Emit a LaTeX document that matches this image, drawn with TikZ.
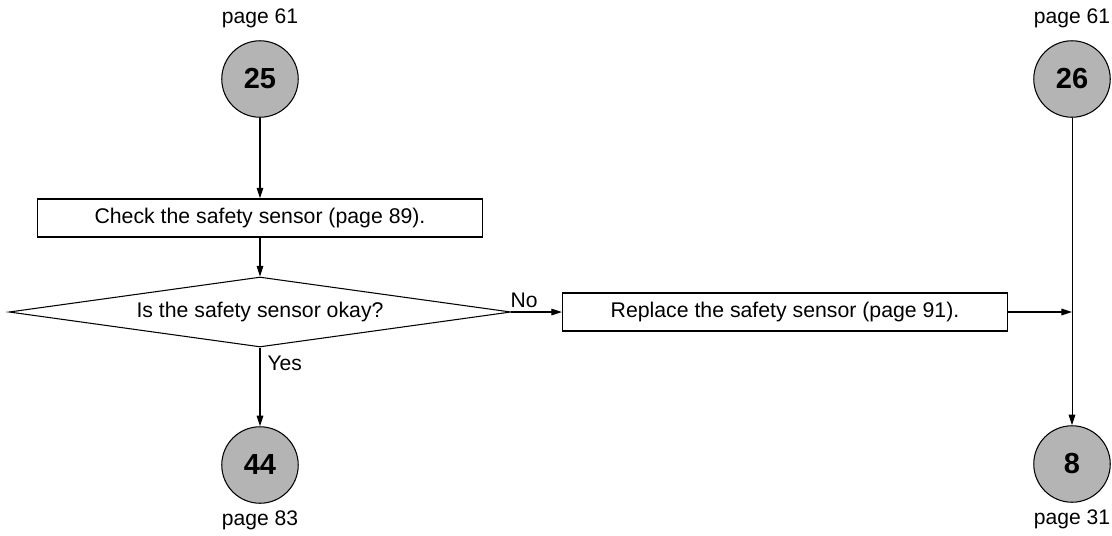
\documentclass[tikz,border=0pt]{standalone}
\usepackage{fontspec}
\setmainfont{Liberation Sans}
\usetikzlibrary{positioning, arrows.meta, shapes.geometric, calc}
\definecolor{jumpgray}{RGB}{180,180,180}

\begin{document}
\begin{tikzpicture}[
    x=0.02cm, y=-0.02cm,
    jump/.style={circle, draw=black, line width=0.6pt, fill=jumpgray, minimum size=1.53cm, inner sep=0pt, font=\fontsize{16.5}{19}\selectfont\bfseries},
    pagelbl/.style={inner sep=1pt, font=\fontsize{12}{14}\selectfont},
    action/.style={rectangle, draw=black, line width=0.8pt, minimum width=8.9cm, minimum height=0.76cm, inner sep=0pt, font=\fontsize{12.1}{14}\selectfont},
    decision/.style={diamond, draw=black, line width=0.6pt, aspect=7.2, minimum width=10.04cm, minimum height=1.4cm, inner sep=0pt, font=\fontsize{12.1}{14}\selectfont},
    flow/.style={draw, line width=0.6pt, -{Triangle[length=6pt, width=3.8pt]}},
    answer/.style={font=\fontsize{12}{14}\selectfont, inner sep=1pt}
]
    \useasboundingbox (0,0) rectangle (1112,535);

    % Jump points ===========================
    \node[jump, label={[pagelbl, label distance=6pt]above:page 61}] (j25) at (260, 79) {25};
    \node[jump, label={[pagelbl, label distance=6pt]above:page 61}] (j26) at (1072, 79) {26};
    \node[jump, label={[pagelbl, label distance=3pt]below:page 83}] (j44) at (260, 465) {44};
    \node[jump, label={[pagelbl, label distance=3pt]below:page 31}] (j8) at (1072, 464) {8};

    % Steps ===========================
    \node[action] (check) at (260, 218) {Check the safety sensor (page 89).};
    \node[decision] (okay) at (260, 312) {Is the safety sensor okay?};
    \node[action] (replace) at (785, 312) {Replace the safety sensor (page 91).};
    \coordinate (join) at (1072, 312);

    % Connectors ===========================
    \draw[flow] (j25) -- (check);
    \draw[flow] (check) -- (okay);
    \draw[flow] (okay.east) -- node[answer, pos=0.25, above, yshift=1pt] {No} (replace);
    \draw[flow] (okay.south) -- node[answer, pos=0.2, right, xshift=3pt] {Yes} (j44);
    \draw[flow] (replace) -- (join);
    \draw[flow, line width=0.5pt] (j26) -- (j8);

\end{tikzpicture}
\end{document}
